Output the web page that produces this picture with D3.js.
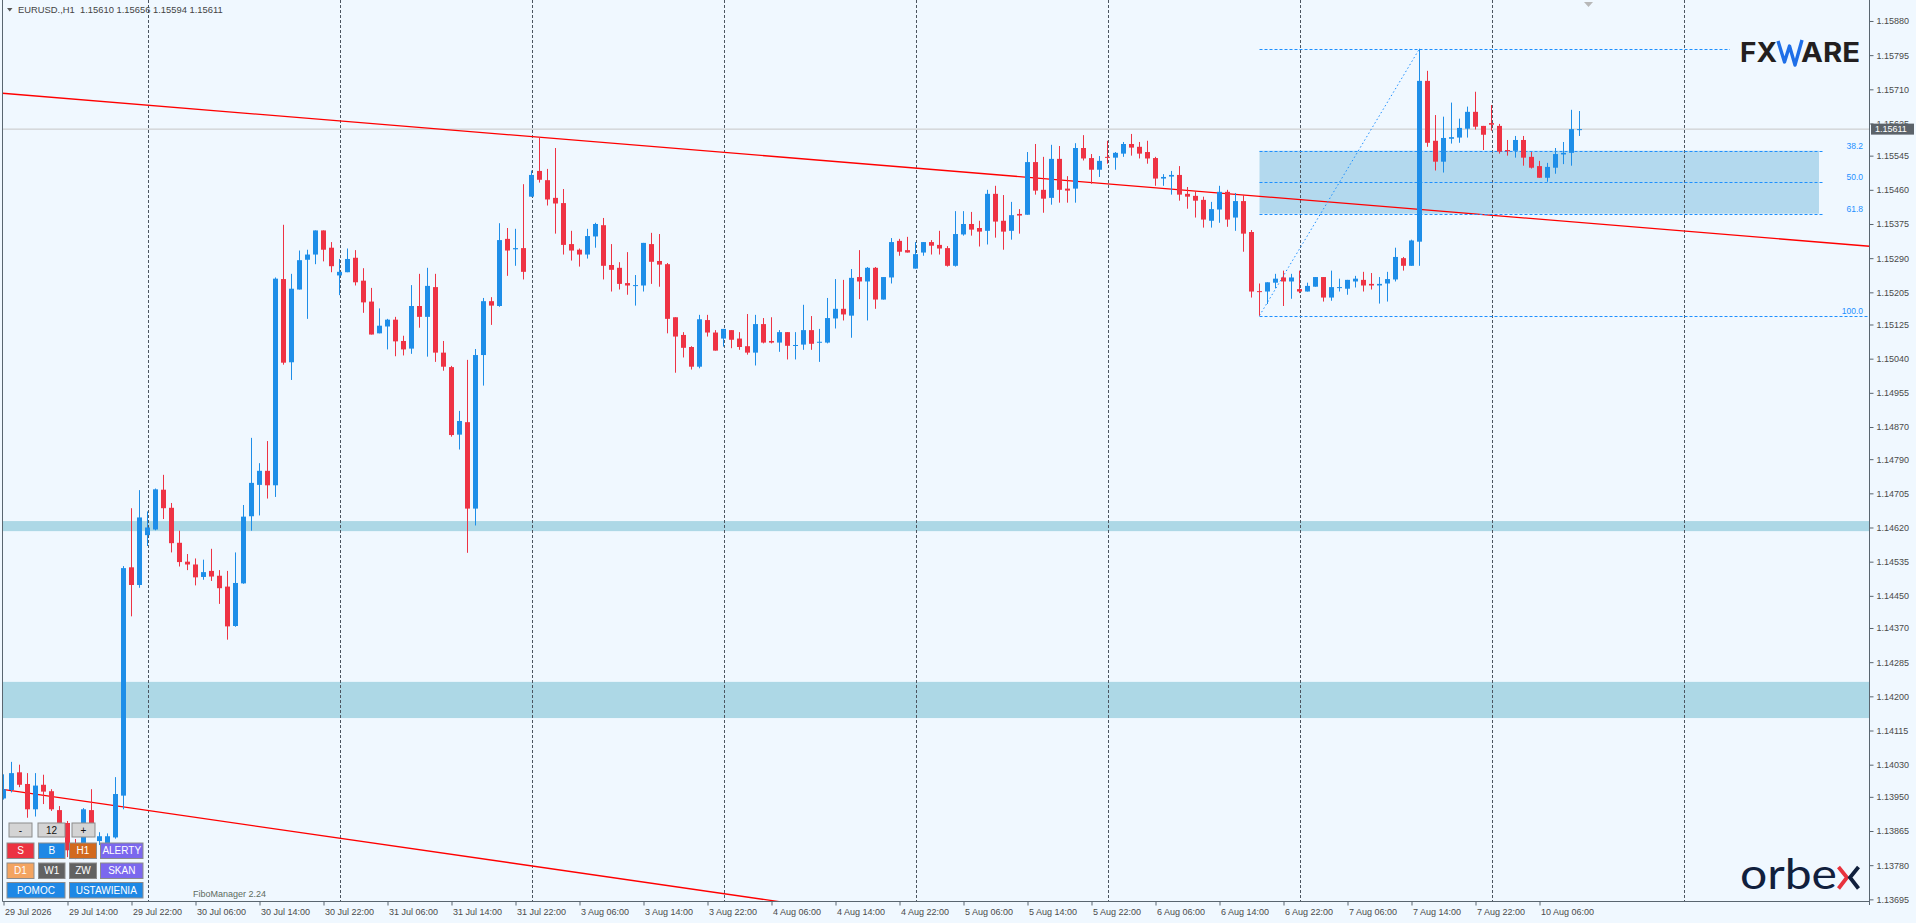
<!DOCTYPE html>
<html><head><meta charset="utf-8">
<script src="https://cdn.jsdelivr.net/npm/d3@7"></script>
<style>html,body{margin:0;padding:0;background:#f0f8ff;overflow:hidden}svg{display:block}</style>
</head><body><svg id="c" width="1916" height="923"></svg>
<script>
// ---------------- DATA ----------------
const symbol = "EURUSD.,H1";
const opens = [1.13946,1.13967,1.14011,1.13982,1.13919,1.13980,1.13964,1.13917,1.13885,1.13817,
1.13805,1.13917,1.13840,1.13833,1.13849,1.13953,1.14521,1.14477,1.14601,1.14615,
1.14714,1.14669,1.14582,1.14535,1.14528,1.14497,1.14512,1.14500,1.14473,1.14375,
1.14481,1.14648,1.14726,1.14761,1.14725,1.15238,1.15031,1.15212,1.15286,1.15299,
1.15359,1.15316,1.15247,1.15255,1.15291,1.15234,1.15182,1.15103,1.15120,1.15137,
1.15084,1.15065,1.15171,1.15144,1.15218,1.15055,1.15019,1.14851,1.14882,1.14667,
1.15049,1.15183,1.15171,1.15338,1.15312,1.15315,1.15443,1.15507,1.15484,1.15440,
1.15427,1.15325,1.15311,1.15299,1.15344,1.15372,1.15273,1.15266,1.15228,1.15222,
1.15222,1.15325,1.15283,1.15275,1.15143,1.15099,1.15069,1.15020,1.15136,1.15105,
1.15090,1.15111,1.15090,1.15071,1.15055,1.15126,1.15084,1.15080,1.15106,1.15072,
1.15075,1.15111,1.15081,1.15080,1.15140,1.15164,1.15147,1.15243,1.15232,1.15266,
1.15187,1.15242,1.15333,1.15310,1.15264,1.15304,1.15330,1.15323,1.15315,1.15271,
1.15349,1.15375,1.15365,1.15358,1.15450,1.15383,1.15358,1.15400,1.15398,1.15529,
1.15460,1.15440,1.15537,1.15463,1.15463,1.15564,1.15539,1.15510,1.15542,1.15540,
1.15550,1.15574,1.15567,1.15554,1.15539,1.15488,1.15493,1.15497,1.15450,1.15445,
1.15435,1.15383,1.15411,1.15455,1.15391,1.15432,1.15355,1.15208,1.15207,1.15229,
1.15242,1.15232,1.15213,1.15207,1.15219,1.15243,1.15192,1.15217,1.15214,1.15232,
1.15236,1.15226,1.15222,1.15227,1.15237,1.15290,1.15271,1.15331,1.15731,1.15582,
1.15530,1.15587,1.15590,1.15612,1.15654,1.15619,1.15626,1.15619,1.15559,1.15557,
1.15584,1.15542,1.15519,1.15490,1.15515,1.15548,1.15552,1.15610];
const highs = [1.14006,1.14037,1.14030,1.14009,1.14009,1.14005,1.13969,1.13927,1.13890,1.13845,
1.13922,1.13969,1.13862,1.13859,1.13999,1.14524,1.14668,1.14713,1.14660,1.14717,
1.14751,1.14681,1.14612,1.14554,1.14543,1.14540,1.14567,1.14514,1.14512,1.14558,
1.14676,1.14843,1.14780,1.14835,1.15242,1.15373,1.15251,1.15309,1.15311,1.15359,
1.15359,1.15330,1.15288,1.15314,1.15310,1.15265,1.15216,1.15165,1.15139,1.15144,
1.15097,1.15223,1.15251,1.15266,1.15251,1.15084,1.15022,1.14910,1.15037,1.15064,
1.15191,1.15193,1.15377,1.15365,1.15363,1.15474,1.15508,1.15591,1.15512,1.15564,
1.15462,1.15358,1.15314,1.15363,1.15378,1.15390,1.15325,1.15280,1.15305,1.15248,
1.15328,1.15353,1.15350,1.15278,1.15143,1.15106,1.15071,1.15149,1.15149,1.15111,
1.15114,1.15111,1.15106,1.15151,1.15149,1.15141,1.15143,1.15111,1.15106,1.15106,
1.15174,1.15146,1.15114,1.15191,1.15238,1.15236,1.15263,1.15310,1.15268,1.15268,
1.15243,1.15340,1.15338,1.15343,1.15330,1.15330,1.15335,1.15358,1.15320,1.15407,
1.15407,1.15405,1.15383,1.15460,1.15470,1.15447,1.15430,1.15412,1.15554,1.15574,
1.15542,1.15572,1.15569,1.15494,1.15576,1.15596,1.15549,1.15544,1.15582,1.15554,
1.15579,1.15599,1.15579,1.15582,1.15542,1.15499,1.15507,1.15519,1.15467,1.15457,
1.15443,1.15430,1.15470,1.15460,1.15452,1.15447,1.15360,1.15227,1.15230,1.15251,
1.15259,1.15251,1.15259,1.15229,1.15243,1.15243,1.15259,1.15239,1.15236,1.15246,
1.15256,1.15253,1.15243,1.15256,1.15316,1.15293,1.15336,1.15811,1.15756,1.15646,
1.15642,1.15677,1.15637,1.15667,1.15704,1.15619,1.15671,1.15624,1.15584,1.15594,
1.15594,1.15554,1.15532,1.15527,1.15564,1.15579,1.15659,1.15656];
const lows = [1.13943,1.13961,1.13974,1.13898,1.13901,1.13932,1.13915,1.13865,1.13800,1.13795,
1.13795,1.13850,1.13830,1.13825,1.13846,1.13919,1.14399,1.14470,1.14574,1.14613,
1.14641,1.14558,1.14523,1.14514,1.14476,1.14490,1.14487,1.14430,1.14341,1.14373,
1.14480,1.14612,1.14650,1.14692,1.14696,1.15025,1.14987,1.15212,1.15139,1.15275,
1.15282,1.15255,1.15198,1.15255,1.15222,1.15154,1.15100,1.15103,1.15063,1.15046,
1.15048,1.15052,1.15117,1.15045,1.15032,1.15010,1.14846,1.14814,1.14557,1.14625,
1.14973,1.15124,1.15169,1.15246,1.15271,1.15237,1.15443,1.15478,1.15421,1.15351,
1.15299,1.15284,1.15269,1.15289,1.15316,1.15237,1.15207,1.15212,1.15199,1.15172,
1.15207,1.15226,1.15219,1.15103,1.15005,1.15043,1.15013,1.15016,1.15095,1.15060,
1.15070,1.15066,1.15062,1.15050,1.15023,1.15078,1.15078,1.15057,1.15038,1.15038,
1.15062,1.15062,1.15032,1.15078,1.15115,1.15135,1.15092,1.15188,1.15135,1.15164,
1.15187,1.15227,1.15296,1.15304,1.15264,1.15296,1.15299,1.15299,1.15269,1.15269,
1.15346,1.15346,1.15319,1.15324,1.15341,1.15311,1.15336,1.15351,1.15398,1.15448,
1.15403,1.15423,1.15428,1.15428,1.15428,1.15533,1.15475,1.15492,1.15525,1.15510,
1.15542,1.15545,1.15538,1.15525,1.15470,1.15470,1.15448,1.15433,1.15413,1.15391,
1.15366,1.15366,1.15378,1.15368,1.15358,1.15306,1.15192,1.15147,1.15176,1.15215,
1.15171,1.15189,1.15203,1.15207,1.15219,1.15182,1.15184,1.15207,1.15199,1.15217,
1.15207,1.15212,1.15177,1.15182,1.15232,1.15259,1.15271,1.15271,1.15567,1.15508,
1.15503,1.15575,1.15577,1.15590,1.15610,1.15559,1.15607,1.15550,1.15545,1.15540,
1.15520,1.15513,1.15490,1.15480,1.15500,1.15524,1.15520,1.15594];
const closes = [1.13969,1.14009,1.13980,1.13919,1.13978,1.13963,1.13919,1.13885,1.13817,1.13805,
1.13919,1.13860,1.13852,1.13852,1.13957,1.14519,1.14477,1.14645,1.14620,1.14715,
1.14668,1.14581,1.14534,1.14528,1.14496,1.14509,1.14498,1.14469,1.14374,1.14482,
1.14647,1.14731,1.14761,1.14725,1.15239,1.15030,1.15214,1.15285,1.15299,1.15359,
1.15311,1.15270,1.15256,1.15288,1.15230,1.15180,1.15100,1.15122,1.15137,1.15083,
1.15063,1.15171,1.15144,1.15221,1.15055,1.15020,1.14850,1.14885,1.14667,1.15049,
1.15183,1.15172,1.15335,1.15309,1.15315,1.15256,1.15497,1.15485,1.15436,1.15426,
1.15323,1.15309,1.15299,1.15345,1.15375,1.15271,1.15261,1.15226,1.15222,1.15223,
1.15328,1.15281,1.15274,1.15139,1.15095,1.15067,1.15020,1.15138,1.15105,1.15060,
1.15114,1.15087,1.15069,1.15055,1.15126,1.15080,1.15080,1.15106,1.15072,1.15074,
1.15111,1.15077,1.15082,1.15141,1.15164,1.15150,1.15241,1.15232,1.15266,1.15187,
1.15243,1.15330,1.15306,1.15304,1.15300,1.15330,1.15321,1.15314,1.15271,1.15350,
1.15375,1.15361,1.15356,1.15450,1.15381,1.15356,1.15397,1.15396,1.15529,1.15458,
1.15438,1.15537,1.15460,1.15458,1.15564,1.15538,1.15510,1.15532,1.15540,1.15552,
1.15574,1.15565,1.15550,1.15538,1.15488,1.15492,1.15497,1.15448,1.15443,1.15433,
1.15386,1.15412,1.15455,1.15386,1.15432,1.15351,1.15207,1.15207,1.15230,1.15239,
1.15232,1.15242,1.15207,1.15221,1.15243,1.15192,1.15218,1.15218,1.15236,1.15239,
1.15222,1.15222,1.15226,1.15238,1.15293,1.15271,1.15334,1.15731,1.15577,1.15530,
1.15589,1.15591,1.15614,1.15654,1.15617,1.15597,1.15622,1.15555,1.15556,1.15584,
1.15540,1.15515,1.15490,1.15517,1.15549,1.15552,1.15611,1.15611];

const priceTickLabels = ["1.15880","1.15795","1.15710","1.15625","1.15545","1.15460","1.15375","1.15290","1.15205",
"1.15125","1.15040","1.14955","1.14870","1.14790","1.14705","1.14620","1.14535","1.14450","1.14370","1.14285",
"1.14200","1.14115","1.14030","1.13950","1.13865","1.13780","1.13695"];
const timeTickIndex = [0,8,16,24,32,40,48,56,64,72,80,88,96,104,112,120,128,136,144,152,160,168,176,184,192];
const timeTickLabels = ["29 Jul 2026","29 Jul 14:00","29 Jul 22:00","30 Jul 06:00","30 Jul 14:00","30 Jul 22:00",
"31 Jul 06:00","31 Jul 14:00","31 Jul 22:00","3 Aug 06:00","3 Aug 14:00","3 Aug 22:00","4 Aug 06:00",
"4 Aug 14:00","4 Aug 22:00","5 Aug 06:00","5 Aug 14:00","5 Aug 22:00","6 Aug 06:00","6 Aug 14:00",
"6 Aug 22:00","7 Aug 06:00","7 Aug 14:00","7 Aug 22:00","10 Aug 06:00"];
const dayGridIndex = [18,42,66,90,114,138,162,186,210];
const zoneLow = [1.14611, 1.14146];
const zoneHigh = [1.14636, 1.14236];
const upperTrendIndex = [0, 233];
const upperTrendPrice = [1.15700, 1.15320];
const lowerTrendIndex = [0, 96];
const lowerTrendPrice = [1.13968, 1.13692];
const fibLevels = [0, 38.2, 50, 61.8, 100];
const fibLabels = ["", "38.2", "50.0", "61.8", "100.0"];
const fibLowIndex = 157, fibHighIndex = 177;
const fibHigh = 1.15811, fibLow = 1.15147;
const currentPrice = 1.15611;

// ---------------- LAYOUT ----------------
const W = 1916, H = 923;
const L = 2.5, R = 1869.5, T = 0, B = 901.5;
const FONT = "'Liberation Sans', Arial, sans-serif";
const svg = d3.select("#c");
const x = d3.scaleLinear().domain([0, 197]).range([3.5, 1579.5]);
const y = d3.scaleLinear().domain([1.136884, 1.159322]).range([902, 0]);
const lin = (i0, i1, p0, p1) => i => p0 + (p1 - p0) * (i - i0) / (i1 - i0);

svg.append("rect").attr("width", W).attr("height", H).attr("fill", "#f0f8ff");
svg.append("defs").append("clipPath").attr("id", "plot")
  .append("rect").attr("x", L).attr("y", T).attr("width", R - L).attr("height", B - T);
const g = svg.append("g").attr("clip-path", "url(#plot)");

// support zones
g.selectAll(".zone").data(zoneLow).join("rect")
  .attr("x", L).attr("width", R - L)
  .attr("y", (d, k) => y(zoneHigh[k])).attr("height", (d, k) => y(zoneLow[k]) - y(zoneHigh[k]))
  .attr("fill", "#add8e6");

// fibo zone
const fibP = r => fibHigh - r / 100 * (fibHigh - fibLow);
const fx0 = x(fibLowIndex);
g.append("rect").attr("x", fx0).attr("width", 1819 - fx0)
  .attr("y", y(fibP(38.2))).attr("height", y(fibP(61.8)) - y(fibP(38.2)))
  .attr("fill", "#b3d9ee");

// grid
g.selectAll(".grid").data(dayGridIndex).join("line")
  .attr("x1", d => Math.round(x(d)) + 0.5).attr("x2", d => Math.round(x(d)) + 0.5)
  .attr("y1", T).attr("y2", B)
  .attr("stroke", "#4b5560").attr("stroke-width", 1).attr("stroke-dasharray", "3,2");

// current price line
g.append("line").attr("x1", L).attr("x2", R).attr("y1", y(currentPrice)).attr("y2", y(currentPrice))
  .attr("stroke", "#c6c6c6").attr("stroke-width", 1);

// trendlines
const iL = x.invert(L), iR = x.invert(R);
const up = lin(upperTrendIndex[0], upperTrendIndex[1], upperTrendPrice[0], upperTrendPrice[1]);
const lo = lin(lowerTrendIndex[0], lowerTrendIndex[1], lowerTrendPrice[0], lowerTrendPrice[1]);
[[up, iL, iR], [lo, iL, lowerTrendIndex[1] + 2]].forEach(([f, a, b]) => {
  g.append("line").attr("x1", x(a)).attr("y1", y(f(a))).attr("x2", x(b)).attr("y2", y(f(b)))
    .attr("stroke", "#ff0000").attr("stroke-width", 1.3);
});

// fib lines
const fibEnd = [1730, 1824, 1824, 1824, R];
g.selectAll(".fibl").data(fibLevels).join("line")
  .attr("x1", fx0).attr("x2", (d, k) => fibEnd[k])
  .attr("y1", d => Math.round(y(fibP(d))) + 0.5).attr("y2", d => Math.round(y(fibP(d))) + 0.5)
  .attr("stroke", "#1e90ff").attr("stroke-width", 1).attr("stroke-dasharray", "3,2");
g.append("line").attr("x1", x(fibLowIndex)).attr("y1", y(fibLow)).attr("x2", x(fibHighIndex)).attr("y2", y(fibHigh))
  .attr("stroke", "#1e90ff").attr("stroke-width", 1).attr("stroke-dasharray", "1.5,2.5");
g.selectAll(".fibt").data(fibLevels).join("text")
  .attr("x", 1863).attr("y", d => y(fibP(d)) - 2)
  .attr("text-anchor", "end").attr("font-family", FONT).attr("font-size", 8.5).attr("fill", "#1e90ff")
  .text((d, k) => fibLabels[k]);

// candles
const idx = d3.range(opens.length);
const col = i => closes[i] >= opens[i] ? "#1e8ee8" : "#ee3344";
g.selectAll(".wick").data(idx).join("line")
  .attr("x1", i => x(i)).attr("x2", i => x(i))
  .attr("y1", i => y(highs[i])).attr("y2", i => y(lows[i]))
  .attr("stroke", col).attr("stroke-width", 1);
g.selectAll(".body").data(idx).join("rect")
  .attr("x", i => x(i) - 2.5).attr("width", 5)
  .attr("y", i => y(Math.max(opens[i], closes[i])))
  .attr("height", i => Math.max(1, Math.abs(y(opens[i]) - y(closes[i]))))
  .attr("fill", col);

// frame
svg.append("line").attr("x1", L).attr("x2", L).attr("y1", 0).attr("y2", B).attr("stroke", "#5a6670");
svg.append("line").attr("x1", L).attr("x2", R).attr("y1", B).attr("y2", B).attr("stroke", "#5a6670");
svg.append("line").attr("x1", R).attr("x2", R).attr("y1", 0).attr("y2", 905).attr("stroke", "#5a6670");

// y axis
const yAxis = d3.axisRight(y).tickValues(priceTickLabels.map(Number)).tickFormat(d3.format(".5f")).tickSize(4).tickPadding(3);
const ya = svg.append("g").attr("transform", `translate(${R},0)`).call(yAxis);
ya.select(".domain").remove();
ya.selectAll("line").attr("stroke", "#5a6670");
ya.selectAll("text").attr("font-family", FONT).attr("font-size", 9).attr("fill", "#4a4a4a");

// current price tag
const cy = y(currentPrice);
svg.append("rect").attr("x", 1871).attr("y", cy - 5.5).attr("width", 43).attr("height", 11).attr("fill", "#5c636a");
svg.append("text").attr("x", 1875).attr("y", cy).attr("dy", "0.34em").attr("font-family", FONT)
  .attr("font-size", 9).attr("fill", "#ffffff").text(d3.format(".5f")(currentPrice));

// x axis
const xAxis = d3.axisBottom(x).tickValues(timeTickIndex).tickFormat((d, k) => timeTickLabels[k]).tickSize(4).tickPadding(3);
const xa = svg.append("g").attr("transform", `translate(0,${B})`).call(xAxis);
xa.select(".domain").remove();
xa.selectAll("line").attr("stroke", "#5a6670");
xa.selectAll("text").attr("text-anchor", "start").attr("x", 1)
  .attr("font-family", FONT).attr("font-size", 9).attr("fill", "#4a4a4a");

// header
const last = opens.length - 1;
svg.append("path").attr("d", "M7,8 L12.5,8 L9.75,11.5 Z").attr("fill", "#555");
svg.append("text").attr("x", 18).attr("y", 10).attr("dy", "0.35em").attr("font-family", FONT)
  .attr("font-size", 9.4).attr("fill", "#444").style("white-space", "pre")
  .text(`${symbol}  ${[opens[last], highs[last], lows[last], closes[last]].map(d3.format(".5f")).join(" ")}`);
svg.append("path").attr("d", "M1584,2 L1593,2 L1588.5,7 Z").attr("fill", "#b8b8b8");

// FXWARE logo
svg.append("text").attr("x", 1740).attr("y", 62).attr("font-family", "Inter, 'Liberation Sans', sans-serif")
  .attr("font-weight", 700).attr("font-size", 27).attr("fill", "#231f20")
  .attr("textLength", 37).attr("lengthAdjust", "spacingAndGlyphs").text("FX");
svg.append("path").attr("d", "M1778,41 L1784.5,62 L1789.5,46 L1795,65 L1802,40")
  .attr("fill", "none").attr("stroke", "#1f6fe8").attr("stroke-width", 3.4).attr("stroke-linejoin", "round");
svg.append("text").attr("x", 1801).attr("y", 62).attr("font-family", "Inter, 'Liberation Sans', sans-serif")
  .attr("font-weight", 700).attr("font-size", 27).attr("fill", "#231f20")
  .attr("textLength", 59).attr("lengthAdjust", "spacingAndGlyphs").text("ARE");

// orbex logo
svg.append("text").attr("x", 1740).attr("y", 888.5).attr("font-family", "Lato, 'Open Sans', sans-serif")
  .attr("font-weight", 400).attr("font-size", 43).attr("fill", "#11203d")
  .attr("textLength", 97).attr("lengthAdjust", "spacingAndGlyphs").text("orbe");
svg.append("path").attr("d", "M1838.5,867 L1847,877.5 L1838.5,888.5").attr("fill", "none")
  .attr("stroke", "#e8333e").attr("stroke-width", 3.8);
svg.append("path").attr("d", "M1858.5,867 L1850,877.5 L1858.5,888.5").attr("fill", "none")
  .attr("stroke", "#11203d").attr("stroke-width", 3.8);

// FiboManager label
svg.append("text").attr("x", 193).attr("y", 897).attr("font-family", FONT).attr("font-size", 9)
  .attr("fill", "#5d6b60").text("FiboManager 2.24");

// panel buttons
const btns = [
  {t: "-", x0: 9, x1: 32, y0: 823, y1: 837, f: "#d4d4d4", c: "#111"},
  {t: "12", x0: 38, x1: 65, y0: 823, y1: 837, f: "#d4d4d4", c: "#111"},
  {t: "+", x0: 72, x1: 95, y0: 823, y1: 837, f: "#d4d4d4", c: "#111"},
  {t: "S", x0: 7, x1: 34, y0: 843, y1: 858.5, f: "#ec3341", c: "#fff"},
  {t: "B", x0: 38.5, x1: 65, y0: 843, y1: 858.5, f: "#1e88e5", c: "#fff"},
  {t: "H1", x0: 69.5, x1: 96.5, y0: 843, y1: 858.5, f: "#d2691e", c: "#fff"},
  {t: "ALERTY", x0: 100.5, x1: 143, y0: 843, y1: 858.5, f: "#7b68ee", c: "#fff"},
  {t: "D1", x0: 7, x1: 34, y0: 863, y1: 878.5, f: "#f4a460", c: "#fff"},
  {t: "W1", x0: 38.5, x1: 65, y0: 863, y1: 878.5, f: "#626262", c: "#fff"},
  {t: "ZW", x0: 69.5, x1: 96.5, y0: 863, y1: 878.5, f: "#626262", c: "#fff"},
  {t: "SKAN", x0: 100.5, x1: 143, y0: 863, y1: 878.5, f: "#7b68ee", c: "#fff"},
  {t: "POMOC", x0: 7, x1: 65, y0: 882.5, y1: 898, f: "#1e88e5", c: "#fff"},
  {t: "USTAWIENIA", x0: 69.5, x1: 143, y0: 882.5, y1: 898, f: "#1e88e5", c: "#fff"}
];
const bg = svg.append("g");
bg.selectAll("rect").data(btns).join("rect")
  .attr("x", d => d.x0).attr("y", d => d.y0).attr("width", d => d.x1 - d.x0).attr("height", d => d.y1 - d.y0)
  .attr("fill", d => d.f).attr("stroke", "#8c8c8c").attr("stroke-width", 1);
bg.selectAll("text").data(btns).join("text")
  .attr("x", d => (d.x0 + d.x1) / 2).attr("y", d => (d.y0 + d.y1) / 2).attr("dy", "0.36em")
  .attr("text-anchor", "middle").attr("font-family", FONT).attr("font-size", 10)
  .attr("fill", d => d.c).text(d => d.t);
</script></body></html>
